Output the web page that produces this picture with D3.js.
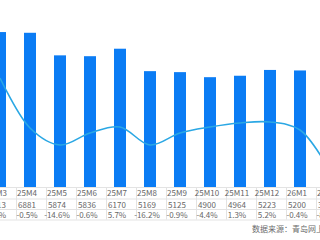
<!DOCTYPE html>
<html>
<head>
<meta charset="utf-8">
<script src="https://cdn.jsdelivr.net/npm/d3@7"></script>
<style>
  html, body { margin: 0; padding: 0; background: #fff; }
  svg { display: block; font-family: "Noto Sans CJK SC", "Noto Sans", sans-serif; }
  .cell-text { font-size: 8px; fill: #666; text-anchor: middle; dominant-baseline: central; }
  .grid-line { stroke: #e3e3e3; stroke-width: 1; }
  .source { font-size: 8px; fill: #6b6b6b; }
</style>
</head>
<body>
<svg id="chart" width="320" height="240"></svg>
<script>
// months shown in the table (first and last are cut off by the frame)
const months = ['25M3', '25M4', '25M5', '25M6', '25M7', '25M8', '25M9', '25M10', '25M11', '25M12', '26M1', '26M2'];
// bar values (units)
const volumes = [6913, 6881, 5874, 5836, 6170, 5169, 5125, 4900, 4964, 5223, 5200, 3900];
// month on month change row
const momLabels = ['2.9%', '-0.5%', '-14.6%', '-0.6%', '5.7%', '-16.2%', '-0.9%', '-4.4%', '1.3%', '5.2%', '-0.4%', '-8.6%'];
// smooth line series (secondary axis, %)
const trendVals = [14.5, -10.5, -19, -13, -10, -19, -13, -10, -8, -7.5, -11.5, -32];

class BarLineTable {

    constructor(_config) {
        this.config = {
            parentElement: _config.parentElement,
            containerWidth: _config.containerWidth || 320,
            containerHeight: _config.containerHeight || 240,
            baseY: 187,
            rowLines: [187, 198.5, 209, 219.5]
        };
        this.initVis();
    }

    initVis() {
        let vis = this;
        vis.svg = d3.select(vis.config.parentElement);

        // x positions of bars
        vis.xScale = d3.scalePoint()
            .domain(months)
            .range([0, 330]);

        vis.yScale = d3.scaleLinear()
            .domain([0, 8000])
            .range([vis.config.baseY, 7.7]);

        vis.yLine = d3.scaleLinear()
            .domain([-40, 20])
            .range([vis.config.baseY, 67]);

        vis.barWidth = 12;
        vis.textShift = -3;   // table text sits a little left of the bar centre
        vis.renderVis();
    }

    renderVis() {
        let vis = this;

        // bars
        vis.svg.append('g').selectAll('rect')
            .data(months)
            .join('rect')
            .attr('x', (d, i) => vis.xScale(d) - vis.barWidth / 2)
            .attr('y', (d, i) => vis.yScale(volumes[i]))
            .attr('width', vis.barWidth)
            .attr('height', (d, i) => vis.yScale(0) - vis.yScale(volumes[i]))
            .attr('fill', '#0b7cf4');

        // smooth trend line
        const line = d3.line()
            .x((d, i) => vis.xScale(months[i]))
            .y(d => vis.yLine(d))
            .curve(d3.curveCatmullRom.alpha(0.5));

        vis.svg.append('path')
            .datum(trendVals)
            .attr('d', line)
            .attr('fill', 'none')
            .attr('stroke', '#2aa7e4')
            .attr('stroke-width', 1.6);

        // table grid
        const grid = vis.svg.append('g');
        grid.selectAll('.h-line')
            .data(vis.config.rowLines)
            .join('line')
            .attr('class', 'grid-line h-line')
            .attr('x1', 0).attr('x2', vis.config.containerWidth)
            .attr('y1', d => d + 0.5).attr('y2', d => d + 0.5);

        const seps = months.map(d => vis.xScale(d) + 15.5);
        grid.selectAll('.v-line')
            .data(seps)
            .join('line')
            .attr('class', 'grid-line v-line')
            .attr('x1', d => Math.round(d) + 0.5).attr('x2', d => Math.round(d) + 0.5)
            .attr('y1', vis.config.rowLines[0]).attr('y2', vis.config.rowLines[3]);

        // table rows
        const rows = [months, volumes.map(String), momLabels];
        const rowY = [192.8, 204, 214.4];
        rows.forEach((row, r) => {
            vis.svg.append('g').selectAll('text')
                .data(row)
                .join('text')
                .attr('class', 'cell-text')
                .attr('x', (d, i) => vis.xScale(months[i]) + vis.textShift)
                .attr('y', rowY[r])
                .text(d => d);
        });

        // source note
        vis.svg.append('text')
            .attr('class', 'source')
            .attr('x', 252)
            .attr('y', 232)
            .text('数据来源：青岛网上房地产');
    }
}

new BarLineTable({ parentElement: '#chart' });
</script>
</body>
</html>
